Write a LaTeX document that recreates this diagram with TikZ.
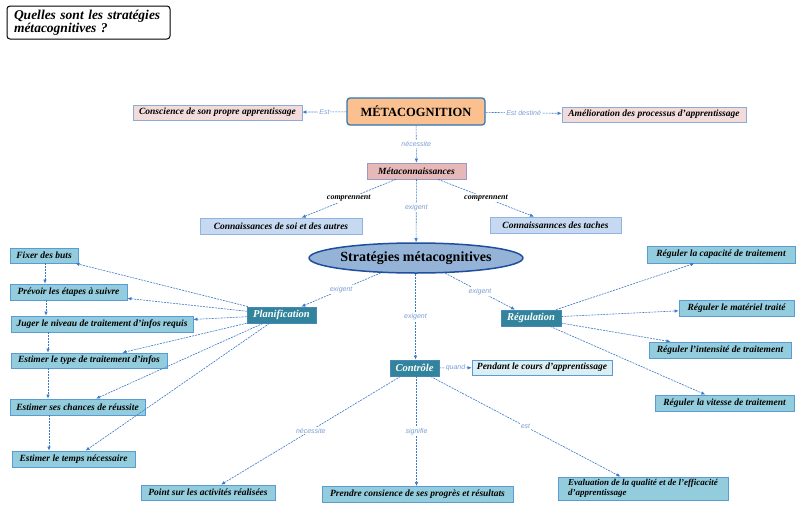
\documentclass[tikz,border=0pt]{standalone}
\usepackage{fontspec}
\setmainfont{Liberation Serif}
\newfontfamily\lblfont{Liberation Sans}
\usetikzlibrary{arrows.meta,shapes.geometric}
\definecolor{lineblue}{HTML}{3A78C9}
\definecolor{lblblue}{HTML}{7A9FD4}
\definecolor{pinkfill}{HTML}{F2DCDB}
\definecolor{pinkborder}{HTML}{8EAADB}
\definecolor{rosefill}{HTML}{E6B9B8}
\definecolor{rosebord}{HTML}{9A9AC8}
\definecolor{lbfill}{HTML}{C6D9F1}
\definecolor{lbborder}{HTML}{8EB4E3}
\definecolor{aquafill}{HTML}{93CDDD}
\definecolor{aquabord}{HTML}{5B9BD5}
\definecolor{tealfill}{HTML}{31849B}
\definecolor{tealbord}{HTML}{4A86B8}
\definecolor{palefill}{HTML}{DBEEF4}
\definecolor{orfill}{HTML}{FAC090}
\definecolor{orbord}{HTML}{2E75B6}
\definecolor{elfill}{HTML}{95B3D7}
\definecolor{elbord}{HTML}{1F4EA0}
\newcommand\mybxfont{\fontsize{9.5}{11}\selectfont\bfseries\itshape}
\tikzset{
  box/.style={draw, line width=0.8pt, inner sep=0pt, font=\mybxfont, text=black},
  pinkbox/.style={box, fill=pinkfill, draw=pinkborder},
  rosebox/.style={box, fill=rosefill, draw=rosebord},
  lbbox/.style={box, fill=lbfill, draw=lbborder},
  aquabox/.style={box, fill=aquafill, draw=aquabord},
  palebox/.style={box, fill=palefill, draw=aquabord},
  tealbox/.style={box, fill=tealfill, draw=tealbord, text=white, font=\fontsize{10.5}{12}\selectfont\bfseries\itshape},
  conn/.style={draw=lineblue, line width=0.6pt, dash pattern=on 2pt off 1pt, -{Latex[length=4pt,width=3.5pt]}},
  lbl/.style={font=\lblfont\fontsize{7}{8}\selectfont\itshape, text=lblblue, fill=white, inner sep=1pt},
  blbl/.style={font=\fontsize{8}{9}\selectfont\bfseries\itshape, text=black, fill=white, inner sep=1pt},
}
\begin{document}
\begin{tikzpicture}[x=1pt,y=-1pt]
\useasboundingbox (0,0) rectangle (800,509);
\fill[white] (0,0) rectangle (800,509);
% title
\node[draw=black, line width=1pt, rounded corners=3pt, fill=white, minimum height=33pt, text width=149pt, inner xsep=7pt, inner ysep=2pt, align=left, font=\fontsize{13.5}{13}\selectfont\bfseries\itshape] (title) at (88.5,22.5) {Quelles sont les stratégies\\métacognitives ?};
% top
\node[draw=orbord, fill=orfill, line width=1.2pt, rounded corners=3pt, minimum width=138pt, minimum height=27pt, inner sep=0pt, font=\fontsize{12.5}{14}\selectfont\bfseries] (met) at (416,111.5) {MÉTACOGNITION};
\node[pinkbox, minimum width=169pt, minimum height=15pt] (consc) at (217.5,112.5) {Conscience de son propre apprentissage};
\node[pinkbox, minimum width=184pt, minimum height=15pt] (amel) at (654,114.5) {Amélioration des processus d'apprentissage};
\node[rosebox, minimum width=99pt, minimum height=16pt] (metac) at (416.5,171) {Métaconnaissances};
\node[lbbox, minimum width=162pt, minimum height=16pt] (soi) at (281,226) {Connaissances de soi et des autres};
\node[lbbox, minimum width=131pt, minimum height=16pt] (taches) at (555.5,225) {Connaissannces des taches};
\node[ellipse, draw=elbord, fill=elfill, line width=1.5pt, minimum width=180pt, minimum height=30pt, inner sep=0pt, font=\fontsize{14}{16}\selectfont\bfseries] (strat) at (416,258) {Stratégies métacognitives};
% main branches
\node[tealbox, minimum width=69pt, minimum height=16pt] (planif) at (281.5,315) {Planification};
\node[tealbox, minimum width=60pt, minimum height=16pt] (regul) at (531,318) {Régulation};
\node[tealbox, minimum width=49pt, minimum height=16pt] (ctrl) at (414.5,368) {Contrôle};
% left
\node[aquabox, minimum width=68pt, minimum height=15pt] (fixer) at (44,255.5) {Fixer des buts};
\node[aquabox, minimum width=117pt, minimum height=16pt] (prevoir) at (68.5,292) {Prévoir les étapes à suivre};
\node[aquabox, minimum width=182pt, minimum height=16pt] (juger) at (102,324) {Juger le niveau de traitement d'infos requis};
\node[aquabox, minimum width=156pt, minimum height=15pt] (type) at (89,360.5) {Estimer le type de traitement d'infos};
\node[aquabox, minimum width=135pt, minimum height=16pt] (chances) at (77.5,407) {Estimer ses chances de réussite};
\node[aquabox, minimum width=123pt, minimum height=16pt] (temps) at (73.5,459) {Estimer le temps nécessaire};
% right
\node[aquabox, minimum width=148pt, minimum height=17pt] (capa) at (721,254.5) {Réguler la capacité de traitement};
\node[aquabox, minimum width=115pt, minimum height=16pt] (mater) at (736.5,308) {Réguler le matériel traité};
\node[aquabox, minimum width=142pt, minimum height=16pt] (inten) at (720,350) {Réguler l'intensité de traitement};
\node[aquabox, minimum width=139pt, minimum height=16pt] (vites) at (724.5,403) {Réguler la vitesse de traitement};
% control
\node[palebox, minimum width=140pt, minimum height=15pt] (pendant) at (542,367.5) {Pendant le cours d'apprentissage};
\node[aquabox, minimum width=134pt, minimum height=15pt] (point) at (208,492.5) {Point sur les activités réalisées};
\node[aquabox, minimum width=191pt, minimum height=16pt] (prendre) at (417.5,494.5) {Prendre consience de ses progrès et résultats};
\node[aquabox, minimum width=170pt, minimum height=23pt, align=left, font=\fontsize{9}{10}\selectfont\bfseries\itshape] (evalu) at (643,488.5) {Evaluation de la qualité et de l'efficacité\\d'apprentissage};
% helper coordinates
\coordinate (c45) at (45,0);
\coordinate (c46) at (46,0);
\coordinate (c48) at (48,0);
\coordinate (c49) at (49,0);
\coordinate (c415) at (415.5,0);
\coordinate (c416) at (416.5,0);
% connectors top
\draw[conn] (met) -- node[lbl]{Est} (consc);
\draw[conn] (met) -- node[lbl]{Est destiné} (amel);
\draw[conn] (met) -- node[lbl]{nécessite} (metac);
\draw[conn] (metac) -- node[blbl]{comprennent} (soi);
\draw[conn] (metac) -- node[blbl]{comprennent} (taches);
\draw[conn] (metac) -- node[lbl, pos=0.45]{exigent} (strat);
\draw[conn] (strat) -- node[lbl]{exigent} (planif);
\draw[conn] (strat) -- node[lbl]{exigent} (regul);
\draw[conn] (strat.south -| c415) -- node[lbl]{exigent} (ctrl.north -| c415);
% planification
\draw[conn] (planif) -- (fixer);
\draw[conn] (planif) -- (prevoir);
\draw[conn] (planif) -- (juger);
\draw[conn] (planif) -- (type);
\draw[conn] (planif) -- (chances);
\draw[conn] (planif) -- (temps);
% chain
\draw[conn] (fixer.south -| c45) -- (prevoir.north -| c45);
\draw[conn] (prevoir.south -| c46) -- (juger.north -| c46);
\draw[conn] (juger.south -| c48) -- (type.north -| c48);
\draw[conn] (type.south -| c48) -- (chances.north -| c48);
\draw[conn] (chances.south -| c49) -- (temps.north -| c49);
% regulation
\draw[conn] (regul) -- (capa);
\draw[conn] (regul) -- (mater);
\draw[conn] (regul) -- (inten);
\draw[conn] (regul) -- (vites);
% controle
\draw[conn] (ctrl) -- node[lbl]{quand} (pendant);
\draw[conn] (ctrl) -- node[lbl]{nécessite} (point);
\draw[conn] (ctrl.south -| c416) -- node[lbl]{signifie} (prendre.north -| c416);
\draw[conn] (ctrl) -- node[lbl]{est} (evalu);
\end{tikzpicture}
\end{document}
